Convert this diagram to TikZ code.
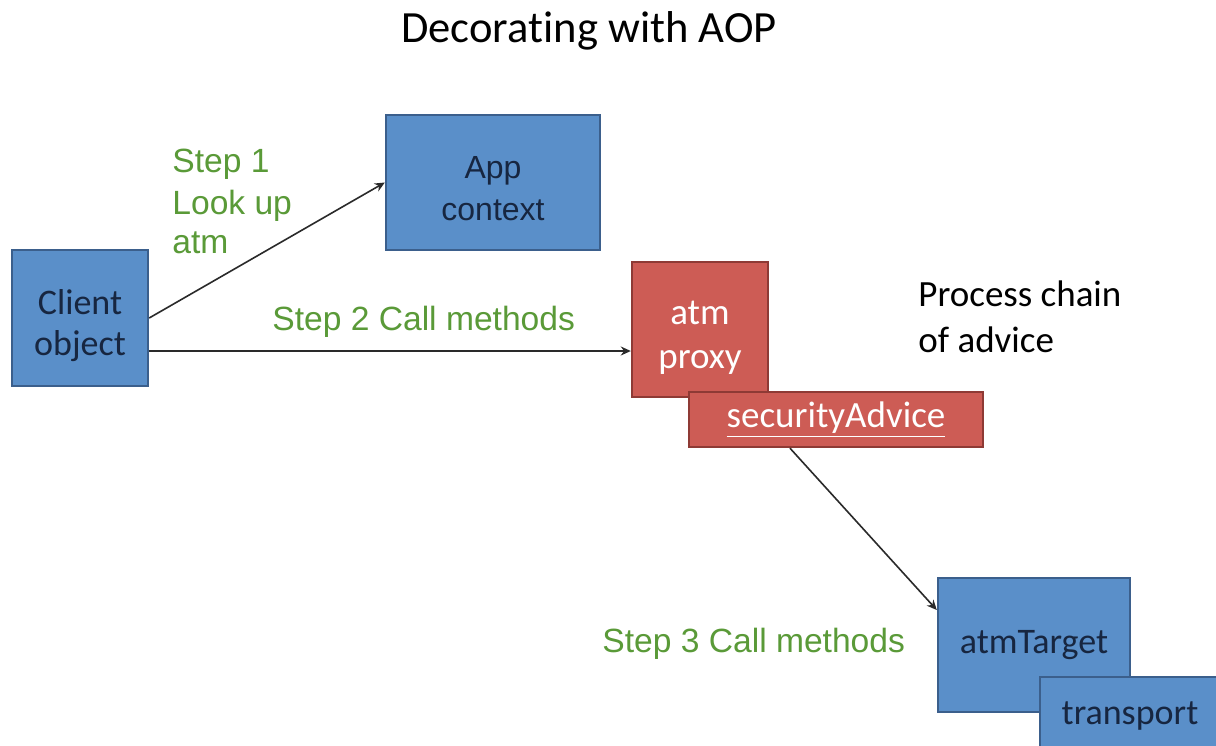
\documentclass[tikz,border=0pt]{standalone}
\usepackage{fontspec}
\setmainfont{Carlito}[Ligatures=NoCommon]
\newfontfamily\arialf{Liberation Sans}
\usetikzlibrary{arrows.meta}
\definecolor{bluefill}{HTML}{5A8FC9}
\definecolor{blueedge}{HTML}{3B5F8C}
\definecolor{redfill}{HTML}{CD5C55}
\definecolor{rededge}{HTML}{8E3A35}
\definecolor{navytext}{HTML}{172640}
\definecolor{steptext}{HTML}{5A9A38}
\definecolor{linegray}{HTML}{2A2A2A}
\newcommand{\lowered}[3]{\raisebox{-#1}[\height][\depth]{\parbox{#2}{\centering #3}}}
\tikzset{
  bluebox/.style={draw=blueedge, line width=1.2pt, fill=bluefill, text=navytext, rectangle, inner sep=0pt, align=center, font=\fontsize{18}{20.5}\selectfont},
  redbox/.style={draw=rededge, line width=1.2pt, fill=redfill, text=white, rectangle, inner sep=0pt, align=center, font=\fontsize{18.5}{22}\selectfont},
  steplabel/.style={text=steptext, inner sep=0pt, anchor=base west, font=\arialf\fontsize{16.8}{20.5}\selectfont},
  plainlabel/.style={text=black, inner sep=0pt, anchor=base west, font=\fontsize{18.5}{23}\selectfont},
  conn/.style={draw=linegray, line width=0.8pt, -{Stealth[length=5pt,width=4.5pt]}}
}
\begin{document}
\begin{tikzpicture}[x=0.5pt,y=-0.5pt]
\clip (0,0) rectangle (1216,745);
\fill[white] (0,0) rectangle (1216,745);
\node[anchor=base, inner sep=0pt, font=\fontsize{22.3}{26}\selectfont] (title) at (589,42) {Decorating with AOP};
\node[bluebox, minimum width=68pt, minimum height=68pt] (cl) at (80,318) {\lowered{4pt}{60pt}{Client\\object}};
\node[bluebox, minimum width=107pt, minimum height=67.5pt, font=\arialf\fontsize{16}{21}\selectfont] (app) at (493,182.5) {\lowered{3pt}{90pt}{App\\context}};
\node[redbox, minimum width=68pt, minimum height=67.5pt] (px) at (700,329.5) {\lowered{4pt}{60pt}{atm\\proxy}};
\node[redbox, minimum width=147pt, minimum height=27.5pt] (sa) at (836,419.5) {\underline{securityAdvice}};
\node[bluebox, minimum width=96pt, minimum height=67pt] (tg) at (1034,645) {atmTarget};
\node[bluebox, minimum width=90pt, minimum height=36.5pt, text depth=0pt] (tr) at (1130,713.5) {transport};
\node[steplabel] (s1) at (172,172) {Step 1};
\node[steplabel] (s1b) at (172,214) {Look up};
\node[steplabel] (s1c) at (172,253) {atm};
\node[steplabel] (s2) at (272,330) {Step 2 Call methods};
\node[steplabel] (s3) at (602,652) {Step 3 Call methods};
\node[plainlabel] (pc1) at (918,306) {Process chain};
\node[plainlabel] (pc2) at (918,352) {of advice};
\draw[conn] (cl.east) -- (app.west);
\draw[conn] ([yshift=-16.5pt]cl.east) -- ([yshift=-16.5pt]cl.east -| px.west);
\draw[conn] ([xshift=-23pt]sa.south) -- ([yshift=17.5pt]tg.west);
\end{tikzpicture}
\end{document}
